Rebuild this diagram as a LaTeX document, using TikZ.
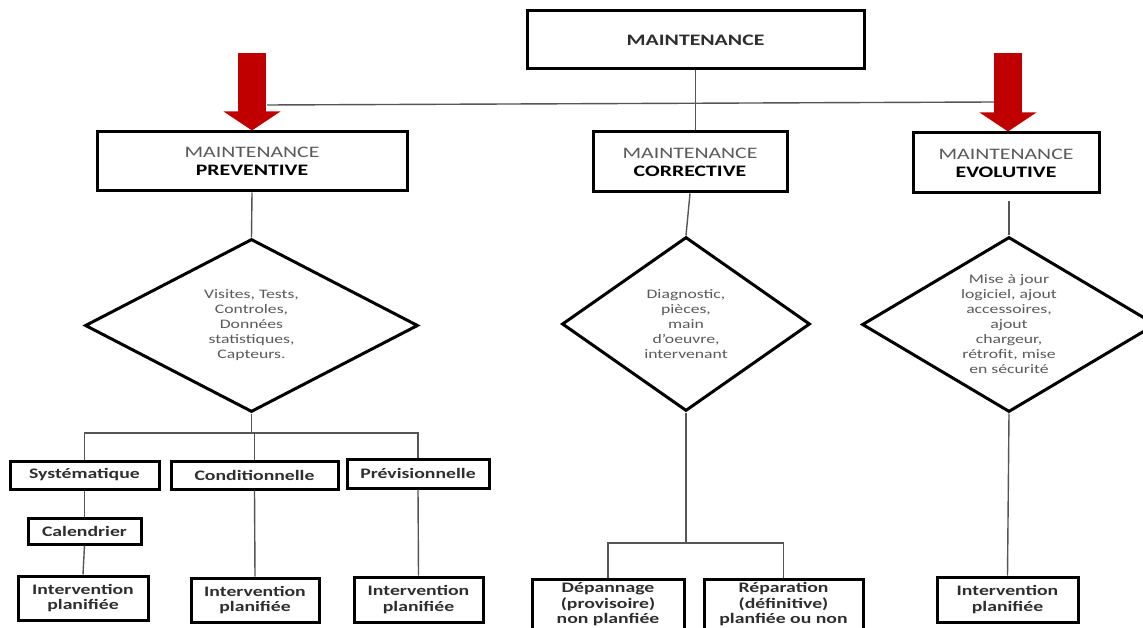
\documentclass[tikz,border=0pt]{standalone}
\usepackage{fontspec}
\setmainfont{Carlito}[FakeStretch=1.36]
\usetikzlibrary{shapes.geometric,arrows.meta}

\definecolor{arrowred}{HTML}{C00000}
\definecolor{linegray}{HTML}{555555}
\definecolor{textgray}{HTML}{5A5A5A}
\definecolor{inkgray}{HTML}{2E2E2E}

\begin{document}
\begin{tikzpicture}[
    x=1pt, y=-1pt,
    box/.style={
        draw,
        line width=3pt,
        rectangle,
        inner sep=0pt,
        align=center
    },
    headbox/.style={
        box,
        font=\fontsize{16}{18}\selectfont
    },
    leafbox/.style={
        box,
        text=inkgray,
        font=\fontsize{14.5}{15.5}\selectfont\bfseries
    },
    choice/.style={
        draw,
        line width=3pt,
        diamond,
        aspect=2,
        inner sep=0pt,
        align=center,
        text=textgray,
        font=\fontsize{13}{15}\selectfont
    },
    link/.style={
        draw=linegray,
        line width=1.4pt
    },
    bigarrow/.style={
        arrowred,
        line width=28pt,
        -{Triangle[length=19pt,width=56pt]}
    }
]

% page size of the reference
\useasboundingbox (0,0) rectangle (1143,628);
\clip (0,0) rectangle (1143,628);
\fill[white] (0,0) rectangle (1143,628);

% Horizontal positions of the three branches
\def\PrevX{252}
\def\CorrX{690}
\def\EvolX{1006}

% ==================================================
% Top level
% ==================================================

\node[headbox, minimum width=337, minimum height=58,
      text=inkgray, font=\fontsize{16}{18}\selectfont\bfseries]
    (maint) at (695.5,40) {MAINTENANCE};

\node[headbox, minimum width=310, minimum height=59] (prev) at (\PrevX,161.5)
    {\textcolor{textgray}{MAINTENANCE}\\\textbf{PREVENTIVE}};

\node[headbox, minimum width=194, minimum height=60] (corr) at (\CorrX,162)
    {\textcolor{textgray}{MAINTENANCE}\\\textbf{CORRECTIVE}};

\node[headbox, minimum width=186, minimum height=60] (evol) at (\EvolX,163)
    {\textcolor{textgray}{MAINTENANCE}\\\textbf{EVOLUTIVE}};

% bus line and red arrows
\coordinate (busL) at (267,105);
\coordinate (busR) at (994,102);
\draw[link] (busL) -- (busR);
\draw[link] (maint.south) -- (maint.south |- corr.north);

\coordinate (arrL) at (\PrevX,53);
\coordinate (arrR) at (1008,53);
\draw[bigarrow] (arrL) -- (prev.north);
\draw[bigarrow] (arrR) -- (arrR |- evol.north);

% ==================================================
% Diamonds
% ==================================================

\node[choice, minimum width=333, minimum height=173] (visits) at (251.5,325.5)
    {Visites, Tests,\\Controles,\\Données\\statistiques,\\Capteurs.};

\node[choice, minimum width=248, minimum height=174] (diag) at (686,324)
    {Diagnostic,\\pièces,\\main\\d'oeuvre,\\intervenant};

\node[choice, minimum width=274, minimum height=175] (update) at (1009,324.5)
    {Mise à jour\\logiciel, ajout\\accessoires,\\ajout\\chargeur,\\rétrofit, mise\\en sécurité};

\draw[link] (prev.south) -- (visits.north);
\draw[link] (corr.south) -- (diag.north);
\draw[link, shorten <=7pt] (update.north |- evol.south) -- (update.north);

% ==================================================
% Preventive branch
% ==================================================

\node[leafbox, minimum width=149, minimum height=28] (sys) at (84.5,475)
    {Systématique};
\node[leafbox, minimum width=167, minimum height=28] (cond) at (254.5,475)
    {Conditionnelle};
\node[leafbox, minimum width=142, minimum height=29] (prv) at (418,473.5)
    {Prévisionnelle};
\node[leafbox, minimum width=113, minimum height=26] (cal) at (84.5,531)
    {Calendrier};

\node[leafbox, minimum width=130, minimum height=44] (plan1) at (83,598)
    {Intervention\\planifiée};
\node[leafbox, minimum width=128, minimum height=44] (plan2) at (255,600)
    {Intervention\\planifiée};
\node[leafbox, minimum width=129, minimum height=45] (plan3) at (418.5,599.5)
    {Intervention\\planifiée};

\coordinate (forkL) at (251.5,433);
\draw[link] (visits.south) -- (forkL);
\draw[link] (forkL) -| (sys.north);
\draw[link] (forkL) -| (prv.north);
\draw[link] (cond.north) -- (cond.north |- forkL);

\draw[link] (sys.south) -- (cal.north);
\draw[link] (cal.south) -- (plan1.north);
\draw[link] (cond.south) -- (plan2.north);
\draw[link] (prv.south) -- (plan3.north);

% ==================================================
% Corrective branch
% ==================================================

\node[leafbox, minimum width=152, minimum height=51] (dep) at (608,604.5)
    {Dépannage\\(provisoire)\\non planfiée};
\node[leafbox, minimum width=159, minimum height=51] (rep) at (783.5,604.5)
    {Réparation\\(définitive)\\planfiée ou non};

\coordinate (forkM) at (686,543);
\draw[link] (diag.south) -- (forkM);
\draw[link] (forkM) -| (dep.north);
\draw[link] (forkM) -| (rep.north);

% ==================================================
% Evolutive branch
% ==================================================

\node[leafbox, minimum width=141, minimum height=45] (plan4) at (1007.5,599.5)
    {Intervention\\planifiée};

\draw[link] (update.south) -- (plan4.north);

\end{tikzpicture}
\end{document}
